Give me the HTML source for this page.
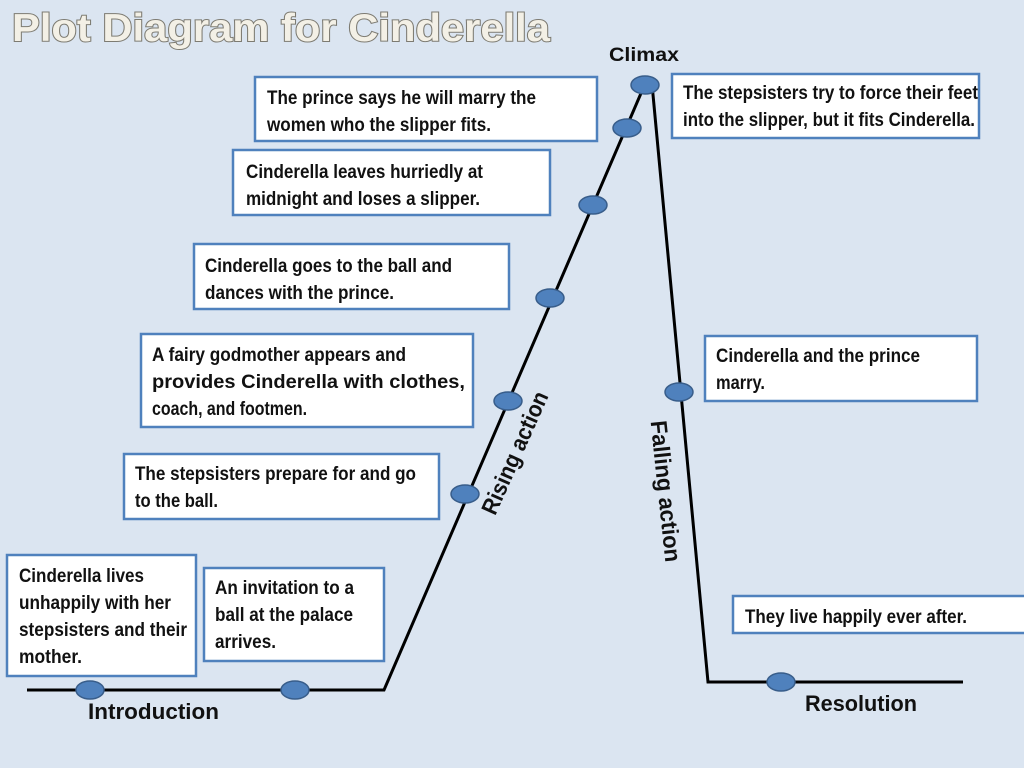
<!DOCTYPE html>
<html><head><meta charset="utf-8"><style>
html,body{margin:0;padding:0;background:#dbe5f1;}
svg{display:block}
.t{font-family:"Liberation Sans",sans-serif;font-size:19px;font-weight:bold;fill:#111;}
.l{font-family:"Liberation Sans",sans-serif;font-weight:bold;fill:#111;}
rect.b{fill:#fff;stroke:#4f81bd;stroke-width:2.5}
ellipse{fill:#4f81bd;stroke:#385d8a;stroke-width:1.5}
</style></head><body>
<svg width="1024" height="768" viewBox="0 0 1024 768" xmlns="http://www.w3.org/2000/svg">
<rect width="1024" height="768" fill="#dbe5f1"/>
<text x="12" y="41" font-family="Liberation Sans, sans-serif" font-size="39" font-weight="bold" fill="#f3f0e6" stroke="#7d7b72" stroke-width="2" paint-order="stroke" textLength="538" lengthAdjust="spacingAndGlyphs">Plot Diagram for Cinderella</text>

<polyline points="27,690 384,690 645,84" fill="none" stroke="#000" stroke-width="3"/>
<polyline points="652,84 708,682 963,682" fill="none" stroke="#000" stroke-width="3"/>

<rect class="b" x="255" y="77" width="342" height="64"/>
<text class="t" x="267" y="104" textLength="269" lengthAdjust="spacingAndGlyphs">The prince says he will marry the</text>
<text class="t" x="267" y="131" textLength="224" lengthAdjust="spacingAndGlyphs">women who the slipper fits.</text>

<rect class="b" x="233" y="150" width="317" height="65"/>
<text class="t" x="246" y="178" textLength="237" lengthAdjust="spacingAndGlyphs">Cinderella leaves hurriedly at</text>
<text class="t" x="246" y="205" textLength="234" lengthAdjust="spacingAndGlyphs">midnight and loses a slipper.</text>

<rect class="b" x="194" y="244" width="315" height="65"/>
<text class="t" x="205" y="272" textLength="247" lengthAdjust="spacingAndGlyphs">Cinderella goes to the ball and</text>
<text class="t" x="205" y="299" textLength="189" lengthAdjust="spacingAndGlyphs">dances with the prince.</text>

<rect class="b" x="141" y="334" width="332" height="93"/>
<text class="t" x="152" y="361" textLength="254" lengthAdjust="spacingAndGlyphs">A fairy godmother appears and</text>
<text class="t" x="152" y="388" font-size="18" textLength="313" lengthAdjust="spacingAndGlyphs">provides Cinderella with clothes,</text>
<text class="t" x="152" y="415" textLength="155" lengthAdjust="spacingAndGlyphs">coach, and footmen.</text>

<rect class="b" x="124" y="454" width="315" height="65"/>
<text class="t" x="135" y="480" textLength="281" lengthAdjust="spacingAndGlyphs">The stepsisters prepare for and go</text>
<text class="t" x="135" y="507" textLength="83" lengthAdjust="spacingAndGlyphs">to the ball.</text>

<rect class="b" x="7" y="555" width="189" height="121"/>
<text class="t" x="19" y="582" textLength="125" lengthAdjust="spacingAndGlyphs">Cinderella lives</text>
<text class="t" x="19" y="609" textLength="152" lengthAdjust="spacingAndGlyphs">unhappily with her</text>
<text class="t" x="19" y="636" textLength="168" lengthAdjust="spacingAndGlyphs">stepsisters and their</text>
<text class="t" x="19" y="663" textLength="63" lengthAdjust="spacingAndGlyphs">mother.</text>

<rect class="b" x="204" y="568" width="180" height="93"/>
<text class="t" x="215" y="594" textLength="139" lengthAdjust="spacingAndGlyphs">An invitation to a</text>
<text class="t" x="215" y="621" textLength="138" lengthAdjust="spacingAndGlyphs">ball at the palace</text>
<text class="t" x="215" y="648" textLength="61" lengthAdjust="spacingAndGlyphs">arrives.</text>

<rect class="b" x="672" y="74" width="307" height="64"/>
<text class="t" x="683" y="99" textLength="295" lengthAdjust="spacingAndGlyphs">The stepsisters try to force their feet</text>
<text class="t" x="683" y="126" textLength="292" lengthAdjust="spacingAndGlyphs">into the slipper, but it fits Cinderella.</text>

<rect class="b" x="705" y="336" width="272" height="65"/>
<text class="t" x="716" y="362" textLength="204" lengthAdjust="spacingAndGlyphs">Cinderella and the prince</text>
<text class="t" x="716" y="389" textLength="49" lengthAdjust="spacingAndGlyphs">marry.</text>

<rect class="b" x="733" y="596" width="295" height="37"/>
<text class="t" x="745" y="623" textLength="222" lengthAdjust="spacingAndGlyphs">They live happily ever after.</text>

<ellipse cx="90" cy="690" rx="14" ry="9"/>
<ellipse cx="295" cy="690" rx="14" ry="9"/>
<ellipse cx="465" cy="494" rx="14" ry="9"/>
<ellipse cx="508" cy="401" rx="14" ry="9"/>
<ellipse cx="550" cy="298" rx="14" ry="9"/>
<ellipse cx="593" cy="205" rx="14" ry="9"/>
<ellipse cx="627" cy="128" rx="14" ry="9"/>
<ellipse cx="645" cy="85" rx="14" ry="9"/>
<ellipse cx="679" cy="392" rx="14" ry="9"/>
<ellipse cx="781" cy="682" rx="14" ry="9"/>

<text class="l" x="609" y="61" font-size="19" textLength="70" lengthAdjust="spacingAndGlyphs">Climax</text>
<text class="l" x="88" y="719" font-size="22" textLength="131" lengthAdjust="spacingAndGlyphs">Introduction</text>
<text class="l" x="805" y="711" font-size="22" textLength="112" lengthAdjust="spacingAndGlyphs">Resolution</text>
<text class="l" font-size="23" text-anchor="middle" transform="translate(522,456) rotate(-66)" textLength="132" lengthAdjust="spacingAndGlyphs">Rising action</text>
<text class="l" font-size="23" text-anchor="middle" transform="translate(658,492) rotate(84)" textLength="142" lengthAdjust="spacingAndGlyphs">Falling action</text>
</svg>
</body></html>
